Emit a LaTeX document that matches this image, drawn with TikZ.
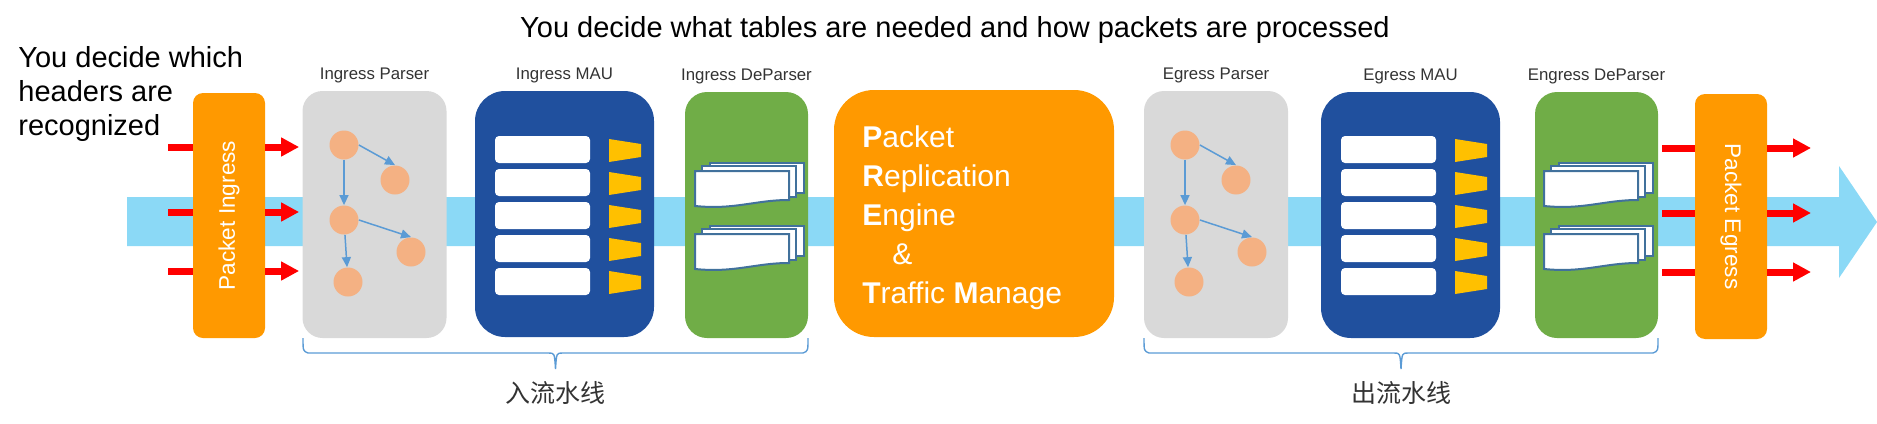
\documentclass[tikz,border=0pt]{standalone}
\usepackage{fontspec}
\setmainfont{Liberation Sans}
\newfontfamily\cjk{Noto Sans CJK SC}
\usetikzlibrary{positioning,arrows.meta}
\definecolor{orng}{RGB}{255,153,0}
\definecolor{grey}{RGB}{217,217,217}
\definecolor{maub}{RGB}{32,80,158}
\definecolor{grn}{RGB}{112,173,71}
\definecolor{yel}{RGB}{255,192,0}
\definecolor{peach}{RGB}{244,177,131}
\definecolor{arrb}{RGB}{91,155,213}
\definecolor{band}{RGB}{139,217,246}
\definecolor{edge}{RGB}{65,113,156}
\definecolor{txt}{RGB}{51,51,51}

\begin{document}
\begin{tikzpicture}[x=0.5pt,y=-0.5pt,
    pk/.style={fill=orng,rounded corners=5pt,minimum width=36pt,minimum height=122.5pt},%
    pkt/.style={text=white,font=\fontsize{11.3}{13}\selectfont},%
    par/.style={fill=grey,rounded corners=10pt,minimum width=72pt,minimum height=123.5pt},%
    mau/.style={fill=maub,rounded corners=15pt,minimum width=89.5pt,minimum height=123pt},%
    dep/.style={fill=grn,rounded corners=11pt,minimum width=61.5pt,minimum height=123pt},%
    lbl/.style={text=txt,inner sep=0pt,font=\fontsize{8.4}{10}\selectfont},%
    s/.style={circle,fill=peach,minimum size=14.5pt,inner sep=0pt},%
    f/.style={-{Triangle[length=5pt,width=4.5pt]},arrb,line width=0.75pt},%
    ra/.style={-{Triangle[length=9pt,width=9pt]},red,line width=3.5pt},%
    rl/.style={red,line width=3.5pt},%
    row/.style={fill=white,rounded corners=2pt,minimum width=47.5pt,minimum height=13.5pt,inner sep=0pt},%
    pap/.style={fill=white,draw=edge,line width=1pt},%
    brc/.style={arrb,line width=0.7pt},%
    big/.style={font=\fontsize{14.5}{17}\selectfont},%
    cn/.style={text=txt,font=\cjk\fontsize{12.5}{14}\selectfont}]
    \useasboundingbox (0,0) rectangle (1877,423);
    % the flow
    \fill[band] (127,197) -- (1839,197) -- (1839,166) -- (1877,222) -- (1839,278) -- (1839,246) -- (127,246) -- cycle;

    \node[big,anchor=base] (ttl) at (955,37) {You decide what tables are needed and how packets are processed};
    \node[big,align=left,anchor=north west,inner sep=0pt] (hdr) at (18,46) {You decide which\\headers are\\recognized};

    \node[pk] (ipkt) at (229,215.5) {};
    \node[pkt,rotate=90] (ipktt) at (ipkt) {Packet Ingress};
    \node[par] (ipar) at (374.5,214.5) {};
    \node[mau] (imau) at (564.5,214) {};
    \node[dep] (idep) at (746.5,215) {};
    \node[fill=orng,rounded corners=20pt,minimum width=140pt,minimum height=123.5pt] (pre) at (974,213.5) {};
    \node[anchor=north west,inner sep=0pt,align=left,text=white,font=\fontsize{15}{19.5}\selectfont] (pret) at (862,125.5)
      {\textbf{P}acket\\\textbf{R}eplication\\\textbf{E}ngine\\\hspace*{15pt}\&\\\textbf{T}raffic \textbf{M}anage};
    \node[par] (epar) at (1216,214.5) {};
    \node[mau] (emau) at (1410.5,215) {};
    \node[dep] (edep) at (1596.5,215) {};
    \node[pk] (epkt) at (1731,216.5) {};
    \node[pkt,rotate=-90] (epktt) at (epkt) {Packet Egress};

    \node[lbl,above=3.5pt of ipar] (iparl) {Ingress Parser};
    \node[lbl,above=3.5pt of imau] (imaul) {Ingress MAU};
    \node[lbl,above=3.5pt of idep] (idepl) {Ingress DeParser};
    \node[lbl,above=3.5pt of epar] (eparl) {Egress Parser};
    \node[lbl,above=3.5pt of emau] (emaul) {Egress MAU};
    \node[lbl,above=3.5pt of edep] (edepl) {Engress DeParser};

    % parse graphs
    \foreach \lx/\nm in {303/i,1144/e} {
      \node[s] (\nm c1) at (\lx+41,145) {};
      \node[s] (\nm c2) at (\lx+92,180) {};
      \node[s] (\nm c3) at (\lx+41,220) {};
      \node[s] (\nm c4) at (\lx+108,252) {};
      \node[s] (\nm c5) at (\lx+45,282) {};
      \draw[f] (\nm c1.east) -- (\nm c2.north);
      \draw[f] (\nm c1) -- (\nm c3);
      \draw[f] (\nm c3.east) -- (\nm c4.north);
      \draw[f] (\nm c3) -- (\nm c5);
    }
    % match-action tables
    \foreach \lx/\nm in {475/i,1321/e} \foreach \k in {1,...,5} {
      \node[row] (\nm r\k) at (\lx+67.5,116.5+33*\k) {};
      \fill[yel] (\lx+134,106+33*\k) -- (\lx+166,111+33*\k) -- (\lx+166,124+33*\k) -- (\lx+134,129+33*\k) -- cycle;
    }
    % deparser sheets
    \foreach \px/\py in {695/171,695/234,1544/171,1544/234} {
      \filldraw[pap] (\px+15,\py-8) rectangle (\px+109,\py+22);
      \filldraw[pap] (\px+7,\py-5) rectangle (\px+101,\py+26);
      \filldraw[pap] (\px,\py) -- (\px+94,\py) -- (\px+94,\py+29) .. controls (\px+60,\py+29) and (\px+40,\py+39) .. (\px,\py+35) -- cycle;
    }

    % packets in and out
    \coordinate (i1) at (168,147);
    \coordinate (i2) at (168,212);
    \coordinate (i3) at (168,271);
    \coordinate (o1) at (1811,148);
    \coordinate (o2) at (1811,213);
    \coordinate (o3) at (1811,272);
    \foreach \p in {i1,i2,i3} {
      \draw[rl] (\p) -- (\p -| ipkt.west);
      \draw[ra,shorten >=1.5pt] (\p -| ipkt.east) -- (\p -| ipar.west);
    }
    \foreach \p in {o1,o2,o3} {
      \draw[rl,shorten <=2pt] (\p -| edep.east) -- (\p -| epkt.west);
      \draw[ra] (\p -| epkt.east) -- (\p);
    }

    % pipelines
    \foreach \a/\b in {303/808,1144/1658} {
      \pgfmathsetmacro\m{(\a+\b)/2}
      \draw[brc] (\a,338) .. controls (\a,351) .. (\a+5,353) -- (\m-7,353) .. controls (\m-1,353) .. (\m,369)
        .. controls (\m+1,353) .. (\m+7,353) -- (\b-5,353) .. controls (\b,351) .. (\b,338);
    }
    \node[cn] (ipl) at (555,393) {入流水线};
    \node[cn] (epl) at (1401,393) {出流水线};
\end{tikzpicture}
\end{document}
